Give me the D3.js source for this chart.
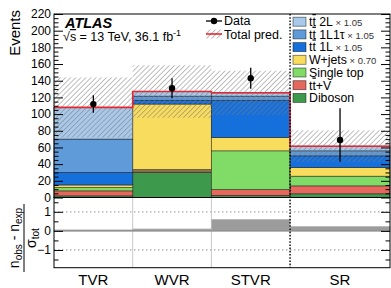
<!DOCTYPE html>
<html>
<head>
<meta charset="utf-8">
<script src="https://cdn.jsdelivr.net/npm/d3@7"></script>
<style>
  body { margin: 0; background: #fff; }
  svg { display: block; font-family: "Liberation Sans", Arial, Helvetica, sans-serif; }
</style>
</head>
<body>
<svg id="chart" width="391" height="288"></svg>
<script>
// regions and stacked predictions
var regions = ["TVR", "WVR", "STVR", "SR"];
var diboson   = [2, 30, 2.5, 4.5];
var ttV       = [6, 2, 7, 9.5];
var singleTop = [4, 1.5, 46.5, 11.5];
var wjets     = [3, 78.5, 16, 10.5];
var tt1L      = [15, 4.5, 44.5, 14];
var tt1L1tau  = [40, 5, 5, 6];
var tt2L      = [38, 5.5, 4, 5.5];
var totalUnc  = [36, 31.5, 26.5, 19];

var dataVals  = [112, 131, 143, 69];
var dataUp    = [10.5, 12, 12.5, 38];
var dataDown  = [10.5, 12, 12.5, 26];
var signif    = [0.05, 0.1, 0.6, 0.23];

var yTicks = [0, 20, 40, 60, 80, 100, 120, 140, 160, 180, 200, 220];
var ratioTicks = [-1, 0, 1];

var samples = [
  {name: "Diboson",    vals: diboson,   color: "#3d9a4d"},
  {name: "ttV",        vals: ttV,       color: "#e5685f"},
  {name: "Single top", vals: singleTop, color: "#80dc66"},
  {name: "W+jets",     vals: wjets,     color: "#f8dc5e"},
  {name: "tt 1L",      vals: tt1L,      color: "#1570dc"},
  {name: "tt 1L1tau",  vals: tt1L1tau,  color: "#5f9bd8"},
  {name: "tt 2L",      vals: tt2L,      color: "#a8c9ea"}
];

var svg = d3.select("#chart");
var left = 54, right = 390;
var mainTop = 14, mainBot = 197.5, ratTop = 197.5, ratBot = 267.7;

// SR bin is drawn wider than the others
var binW = [1, 1, 1, 1.27];
var edges = [0];
binW.forEach(function(w, i) { edges.push(edges[i] + w); });

var x = d3.scaleLinear().domain([0, edges[4]]).range([left, right]);
var y = d3.scaleLinear().domain([0, 220]).range([mainBot, mainTop]);
var yr = d3.scaleLinear().domain([-1.93, 1.75]).range([ratBot, ratTop]);

function x0(i) { return x(edges[i]); }
function x1(i) { return x(edges[i + 1]); }
function xc(i) { return (x0(i) + x1(i)) / 2; }

// hatch pattern
var defs = svg.append("defs");
var pat = defs.append("pattern")
  .attr("id", "hatch")
  .attr("patternUnits", "userSpaceOnUse")
  .attr("width", 3.6).attr("height", 3.6)
  .attr("patternTransform", "rotate(45)");
pat.append("line")
  .attr("x1", 0).attr("y1", 0).attr("x2", 0).attr("y2", 3.6)
  .attr("stroke", "#7a7a7a").attr("stroke-width", 1);

// stacked bars
var stackData = regions.map(function(r, i) {
  var o = {i: i};
  samples.forEach(function(s) { o[s.name] = s.vals[i]; });
  return o;
});
var stack = d3.stack().keys(samples.map(function(s) { return s.name; }));
var series = stack(stackData);

var bars = svg.append("g");
series.forEach(function(ser, k) {
  bars.selectAll(null)
    .data(ser)
    .enter().append("rect")
    .attr("x", function(d) { return x0(d.data.i); })
    .attr("width", function(d) { return x1(d.data.i) - x0(d.data.i); })
    .attr("y", function(d) { return y(d[1]); })
    .attr("height", function(d) { return y(d[0]) - y(d[1]); })
    .attr("fill", samples[k].color)
    .attr("stroke", "rgba(0,0,0,0.55)")
    .attr("stroke-width", 0.8);
});

var totals = regions.map(function(r, i) {
  return d3.sum(samples, function(s) { return s.vals[i]; });
});

// uncertainty band
svg.append("g").selectAll("rect")
  .data(regions)
  .enter().append("rect")
  .attr("x", function(d, i) { return x0(i); })
  .attr("width", function(d, i) { return x1(i) - x0(i); })
  .attr("y", function(d, i) { return y(totals[i] + totalUnc[i]); })
  .attr("height", function(d, i) { return y(totals[i] - totalUnc[i]) - y(totals[i] + totalUnc[i]); })
  .attr("fill", "url(#hatch)");

// total prediction step line
var stepPts = [];
regions.forEach(function(r, i) {
  stepPts.push([x0(i), y(totals[i])]);
  stepPts.push([x1(i), y(totals[i])]);
});
svg.append("path")
  .attr("d", d3.line()(stepPts))
  .attr("fill", "none")
  .attr("stroke", "#e8262f")
  .attr("stroke-width", 1.6);

// main axes
var yAxisL = d3.axisLeft(y).tickValues(yTicks).tickSizeInner(-9).tickSizeOuter(0).tickPadding(3);
var gL = svg.append("g").attr("transform", "translate(" + left + ",0)").call(yAxisL);
gL.select(".domain").remove();
gL.selectAll("text").attr("font-size", 12).attr("fill", "#000");
var minorMain = d3.range(0, 221, 5).filter(function(v) { return v % 20 !== 0; });
var gLm = svg.append("g").attr("transform", "translate(" + left + ",0)")
  .call(d3.axisLeft(y).tickValues(minorMain).tickSizeInner(-4.5).tickSizeOuter(0).tickFormat(""));
gLm.select(".domain").remove();
var gR = svg.append("g").attr("transform", "translate(" + right + ",0)")
  .call(d3.axisRight(y).tickValues(yTicks).tickSizeInner(-9).tickSizeOuter(0).tickFormat(""));
gR.select(".domain").remove();
var gRm = svg.append("g").attr("transform", "translate(" + right + ",0)")
  .call(d3.axisRight(y).tickValues(minorMain).tickSizeInner(-4.5).tickSizeOuter(0).tickFormat(""));
gRm.select(".domain").remove();

svg.append("rect")
  .attr("x", left).attr("y", mainTop)
  .attr("width", right - left).attr("height", mainBot - mainTop)
  .attr("fill", "none").attr("stroke", "#000").attr("stroke-width", 1);

// data points
var pts = svg.append("g");
pts.selectAll("line")
  .data(dataVals)
  .enter().append("line")
  .attr("x1", function(d, i) { return xc(i); })
  .attr("x2", function(d, i) { return xc(i); })
  .attr("y1", function(d, i) { return y(d + dataUp[i]); })
  .attr("y2", function(d, i) { return y(d - dataDown[i]); })
  .attr("stroke", "#000").attr("stroke-width", 1.3);
pts.selectAll("circle")
  .data(dataVals)
  .enter().append("circle")
  .attr("cx", function(d, i) { return xc(i); })
  .attr("cy", function(d) { return y(d); })
  .attr("r", 3.2)
  .attr("fill", "#000");

// ratio panel
var rat = svg.append("g");
rat.selectAll(".sep")
  .data([1, 2])
  .enter().append("line")
  .attr("x1", function(d) { return x(edges[d]); })
  .attr("x2", function(d) { return x(edges[d]); })
  .attr("y1", ratTop).attr("y2", ratBot)
  .attr("stroke", "#c8c8c8").attr("stroke-width", 1);
rat.selectAll(".dl")
  .data([1, -1])
  .enter().append("line")
  .attr("x1", left).attr("x2", right)
  .attr("y1", function(d) { return yr(d); })
  .attr("y2", function(d) { return yr(d); })
  .attr("stroke", "#aaa").attr("stroke-width", 1.2)
  .attr("stroke-dasharray", "1.5,2.5");
rat.selectAll("rect")
  .data(signif)
  .enter().append("rect")
  .attr("x", function(d, i) { return x0(i); })
  .attr("width", function(d, i) { return x1(i) - x0(i); })
  .attr("y", function(d) { return yr(Math.max(d, 0)); })
  .attr("height", function(d) { return Math.abs(yr(0) - yr(d)); })
  .attr("fill", "#9c9c9c")
  .attr("stroke", "#b8b8b8").attr("stroke-width", 0.8);
rat.append("line")
  .attr("x1", left).attr("x2", right)
  .attr("y1", yr(0)).attr("y2", yr(0))
  .attr("stroke", "#888").attr("stroke-width", 1.3);

var fmtR = function(v) { return v < 0 ? "\u2212" + Math.abs(v) : String(v); };
var rL = svg.append("g").attr("transform", "translate(" + left + ",0)")
  .call(d3.axisLeft(yr).tickValues(ratioTicks).tickSizeInner(-9).tickSizeOuter(0).tickPadding(3).tickFormat(fmtR));
rL.select(".domain").remove();
rL.selectAll("text").attr("font-size", 12).attr("fill", "#000");
var minorRat = [-1.5, -0.5, 0.5, 1.5];
var rLm = svg.append("g").attr("transform", "translate(" + left + ",0)")
  .call(d3.axisLeft(yr).tickValues(minorRat).tickSizeInner(-4.5).tickSizeOuter(0).tickFormat(""));
rLm.select(".domain").remove();
var rR = svg.append("g").attr("transform", "translate(" + right + ",0)")
  .call(d3.axisRight(yr).tickValues(ratioTicks).tickSizeInner(-9).tickSizeOuter(0).tickFormat(""));
rR.select(".domain").remove();
var rRm = svg.append("g").attr("transform", "translate(" + right + ",0)")
  .call(d3.axisRight(yr).tickValues(minorRat).tickSizeInner(-4.5).tickSizeOuter(0).tickFormat(""));
rRm.select(".domain").remove();

svg.append("rect")
  .attr("x", left).attr("y", ratTop)
  .attr("width", right - left).attr("height", ratBot - ratTop)
  .attr("fill", "none").attr("stroke", "#000").attr("stroke-width", 1);

// dotted separator before SR
svg.append("line")
  .attr("x1", x(edges[3])).attr("x2", x(edges[3]))
  .attr("y1", mainTop).attr("y2", ratBot)
  .attr("stroke", "#000").attr("stroke-width", 1.4)
  .attr("stroke-dasharray", "1.6,1.6");

// category labels
svg.append("g").selectAll("text")
  .data(regions)
  .enter().append("text")
  .attr("x", function(d, i) { return xc(i); })
  .attr("y", 285)
  .attr("text-anchor", "middle")
  .attr("font-size", 15)
  .text(function(d) { return d; });

// axis titles
svg.append("text")
  .attr("transform", "translate(20,10) rotate(-90)")
  .attr("text-anchor", "end")
  .attr("font-size", 15)
  .text("Events");

var rt = svg.append("g").attr("transform", "translate(0,238) rotate(-90)");
var num = rt.append("text").attr("x", 0).attr("y", 19).attr("text-anchor", "middle").attr("font-size", 14);
num.append("tspan").text("n");
num.append("tspan").attr("font-size", 10).attr("dy", 3).text("obs");
num.append("tspan").attr("dy", -3).text(" - n");
num.append("tspan").attr("font-size", 10).attr("dy", 3).text("exp");
rt.append("line").attr("x1", -34).attr("x2", 34).attr("y1", 24).attr("y2", 24)
  .attr("stroke", "#000").attr("stroke-width", 1);
var den = rt.append("text").attr("x", 0).attr("y", 36).attr("text-anchor", "middle").attr("font-size", 14);
den.append("tspan").text("\u03c3");
den.append("tspan").attr("font-size", 10).attr("dy", 3).text("tot");

// ATLAS label
svg.append("text")
  .attr("x", 65).attr("y", 28)
  .attr("font-size", 14.5).attr("font-weight", "bold").attr("font-style", "italic")
  .text("ATLAS");
var lumi = svg.append("text").attr("x", 63).attr("y", 41).attr("font-size", 12.5);
lumi.append("tspan").text("\u221a");
lumi.append("tspan").attr("text-decoration", "overline").text("s");
lumi.append("tspan").text(" = 13 TeV, 36.1 fb");
lumi.append("tspan").attr("font-size", 9).attr("dy", -5).text("-1");

// left legend: data and total
var lg = svg.append("g");
lg.append("line").attr("x1", 206).attr("x2", 222).attr("y1", 21).attr("y2", 21)
  .attr("stroke", "#000").attr("stroke-width", 1.3);
lg.append("circle").attr("cx", 214).attr("cy", 21).attr("r", 3.2).attr("fill", "#000");
lg.append("text").attr("x", 224).attr("y", 25.2).attr("font-size", 12.5).text("Data");
lg.append("rect").attr("x", 206).attr("y", 29.5).attr("width", 16).attr("height", 9)
  .attr("fill", "url(#hatch)");
lg.append("line").attr("x1", 206).attr("x2", 222).attr("y1", 34).attr("y2", 34)
  .attr("stroke", "#e8262f").attr("stroke-width", 1.6);
lg.append("text").attr("x", 224).attr("y", 38.6).attr("font-size", 12.5).text("Total pred.");

// right legend: samples
var legItems = [
  {key: "tt 2L",      pre: true, label: " 2L",        scale: " \u00d7 1.05"},
  {key: "tt 1L1tau",  pre: true, label: " 1L1\u03c4", scale: " \u00d7 1.05"},
  {key: "tt 1L",      pre: true, label: " 1L",        scale: " \u00d7 1.05"},
  {key: "W+jets",     pre: false, label: "W+jets",    scale: " \u00d7 0.70"},
  {key: "Single top", pre: false, label: "Single top", scale: ""},
  {key: "ttV",        pre: true, label: "+V",         scale: ""},
  {key: "Diboson",    pre: false, label: "Diboson",   scale: ""}
];
var colorOf = {};
samples.forEach(function(s) { colorOf[s.name] = s.color; });

var rg = svg.append("g");
legItems.forEach(function(it, k) {
  var cy = 21.7 + k * 12.7;
  rg.append("rect")
    .attr("x", 293).attr("y", cy - 4.5).attr("width", 13).attr("height", 9)
    .attr("fill", colorOf[it.key])
    .attr("stroke", "rgba(0,0,0,0.55)").attr("stroke-width", 0.8);
  var t = rg.append("text").attr("x", 309).attr("y", cy + 4.3).attr("font-size", 12.3);
  if (it.pre) {
    t.append("tspan").text("t");
    t.append("tspan").attr("text-decoration", "overline").text("t");
  }
  t.append("tspan").text(it.label);
  if (it.scale) {
    t.append("tspan").attr("font-size", 9.5).attr("fill", "#333").text(it.scale);
  }
});
</script>
</body>
</html>
